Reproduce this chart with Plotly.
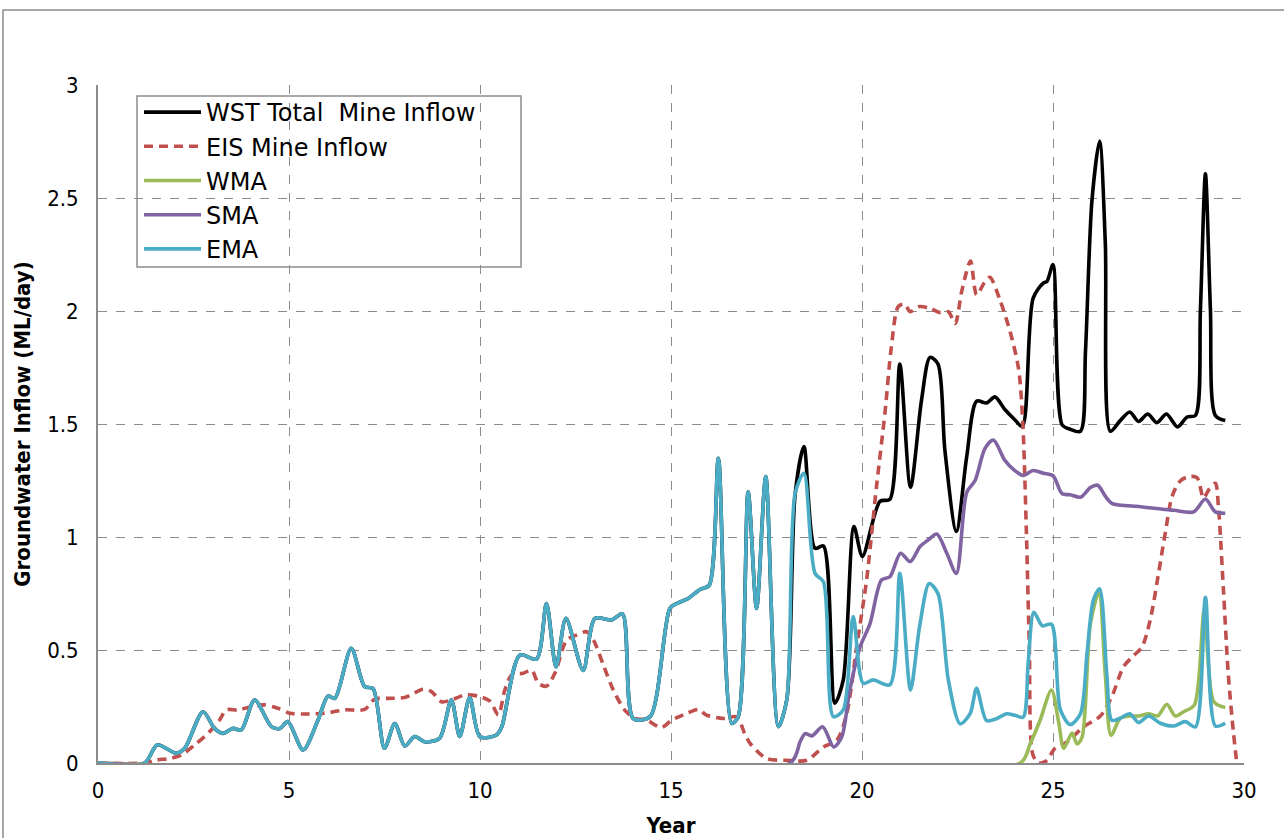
import plotly.graph_objects as go

# ---- data ----
ema_x = [0, 1.22, 1.55, 2.05, 2.27, 2.75, 3.05, 3.27, 3.53, 3.75, 4.10, 4.54, 4.76, 4.97, 5.37, 5.76, 6.02, 6.2,
         6.63, 6.98, 7.2, 7.5, 7.77, 8.03, 8.29, 8.55, 8.94, 9.25, 9.47, 9.73, 10.0, 10.43, 10.57, 11.04, 11.48,
         11.74, 11.99, 12.25, 12.70, 13.01, 13.45, 13.73, 14.01, 14.45, 14.97, 15.15, 15.45, 15.76, 16.0, 16.24,
         16.59, 16.76, 17.02, 17.24, 17.48, 17.81, 18.03, 18.25, 18.48, 18.77, 18.99, 19.25, 19.51, 19.77, 20.03,
         20.29, 20.73, 20.99, 21.27, 21.51, 21.76, 21.99, 22.26, 22.57, 22.83, 23.0, 23.26, 23.52, 23.79, 24.0,
         24.22, 24.35, 24.5, 24.72, 24.96, 25.19, 25.45, 25.72, 25.89, 26.06, 26.22, 26.41, 26.54, 26.76, 27.01,
         27.24, 27.5, 27.81, 28.16, 28.46, 28.73, 28.99, 29.25, 29.51]
ema_y = [0, 0, 0.08, 0.043, 0.065, 0.227, 0.153, 0.131, 0.153, 0.146, 0.279, 0.161, 0.153, 0.183, 0.058, 0.19,
         0.296, 0.286, 0.507, 0.338, 0.33, 0.065, 0.175, 0.075, 0.117, 0.094, 0.109, 0.279, 0.117, 0.29, 0.116,
         0.124, 0.16, 0.477, 0.46, 0.706, 0.426, 0.64, 0.41, 0.64, 0.633, 0.66, 0.197, 0.205, 0.684, 0.706, 0.728,
         0.768, 0.787, 1.348, 0.175, 0.205, 1.2, 0.684, 1.267, 0.161, 0.279, 1.194, 1.282, 0.839, 0.802, 0.205,
         0.235, 0.648, 0.353, 0.368, 0.346, 0.839, 0.323, 0.607, 0.794, 0.749, 0.368, 0.173, 0.218, 0.33, 0.188,
         0.196, 0.218, 0.211, 0.203, 0.442, 0.667, 0.607, 0.614, 0.237, 0.17, 0.218, 0.485, 0.723, 0.771, 0.389,
         0.189, 0.198, 0.218, 0.179, 0.208, 0.176, 0.164, 0.183, 0.16, 0.733, 0.164, 0.176]

# WST total follows EMA until SMA starts (~year 18); later part read separately
wst_late_x = [18.25, 18.48, 18.77, 18.99, 19.29, 19.51, 19.79, 20.01, 20.47, 20.73, 20.99, 21.27, 21.56, 21.78,
              21.99, 22.17, 22.47, 22.74, 23.0, 23.26, 23.48, 23.74, 24.0, 24.2, 24.48, 24.75, 24.84, 25.0, 25.24,
              25.45, 25.72, 25.85, 26.02, 26.22, 26.37, 26.5, 26.76, 27.01, 27.24, 27.48, 27.72, 27.97, 28.26,
              28.51, 28.73, 28.86, 28.99, 29.12, 29.25, 29.51]
wst_late_y = [1.19, 1.4, 0.95, 0.96, 0.265, 0.368, 1.046, 0.914, 1.158, 1.167, 1.765, 1.22, 1.608, 1.795, 1.765,
              1.384, 1.025, 1.354, 1.601, 1.593, 1.62, 1.564, 1.519, 1.489, 2.057, 2.124, 2.13, 2.205, 1.496, 1.477,
              1.468, 1.82, 2.489, 2.752, 2.298, 1.468, 1.515, 1.553, 1.511, 1.544, 1.506, 1.544, 1.487, 1.531,
              1.538, 2.011, 2.607, 2.011, 1.538, 1.515]

eis_x = [0, 1.22, 1.53, 1.88, 2.18, 2.53, 2.88, 3.18, 3.36, 3.66, 4.01, 4.36, 4.71, 5.02, 5.41, 5.93, 6.46, 6.98,
         7.24, 7.59, 8.03, 8.51, 8.73, 8.99, 9.25, 9.6, 9.95, 10.26, 10.48, 10.65, 10.83, 11.13, 11.35, 11.53,
         11.74, 11.96, 12.27, 12.53, 12.79, 12.97, 13.23, 13.49, 13.79, 14.06, 14.36, 14.75, 15.02, 15.41, 15.72,
         15.93, 16.37, 16.72, 16.93, 17.07, 17.5, 18.03, 18.55, 18.99, 19.34, 19.6, 19.86, 20.12, 20.38, 20.6,
         20.77, 20.95, 21.12, 21.26, 21.48, 21.78, 22.04, 22.26, 22.44, 22.61, 22.84, 23.0, 23.2, 23.35, 23.61,
         23.88, 24.1, 24.21, 24.3, 24.38, 24.47, 24.62, 24.83, 25.05, 25.37, 25.8, 26.24, 26.54, 26.85, 27.11,
         27.33, 27.55, 27.77, 27.94, 28.12, 28.33, 28.55, 28.77, 28.94, 29.08, 29.25, 29.33, 29.46, 29.59, 29.72,
         29.81]
eis_y = [0, 0, 0.013, 0.02, 0.035, 0.08, 0.131, 0.19, 0.235, 0.235, 0.249, 0.257, 0.242, 0.22, 0.217, 0.22, 0.235,
         0.237, 0.282, 0.286, 0.29, 0.326, 0.316, 0.271, 0.279, 0.301, 0.296, 0.274, 0.213, 0.323, 0.389, 0.397,
         0.411, 0.352, 0.34, 0.397, 0.544, 0.566, 0.581, 0.544, 0.433, 0.323, 0.234, 0.197, 0.19, 0.157, 0.19,
         0.219, 0.237, 0.212, 0.197, 0.204, 0.13, 0.087, 0.02, 0.012, 0.012, 0.071, 0.1, 0.218, 0.514, 0.81,
         1.224, 1.548, 1.843, 2.02, 2.03, 1.997, 2.019, 2.012, 1.993, 1.997, 1.945, 2.087, 2.221, 2.072, 2.124,
         2.149, 2.049, 1.907, 1.743, 1.504, 1.04, 0.517, 0.039, 0, 0.01, 0.065, 0.093, 0.16, 0.208, 0.294, 0.427,
         0.475, 0.513, 0.637, 0.847, 1.019, 1.181, 1.248, 1.267, 1.263, 1.172, 1.21, 1.238, 1.134, 0.771, 0.389,
         0.141, 0]

wma_x = [0, 24.14, 24.4, 24.66, 24.96, 25.15, 25.28, 25.5, 25.63, 25.76, 25.98, 26.2, 26.37, 26.52, 26.76, 27.01,
         27.24, 27.5, 27.74, 27.98, 28.2, 28.42, 28.7, 28.96, 29.21, 29.51]
wma_y = [0, 0, 0.084, 0.188, 0.323, 0.179, 0.065, 0.132, 0.084, 0.113, 0.618, 0.752, 0.389, 0.122, 0.198, 0.208,
         0.208, 0.218, 0.208, 0.26, 0.208, 0.227, 0.256, 0.676, 0.271, 0.246]

sma_x = [0, 18.12, 18.38, 18.51, 18.69, 18.97, 19.26, 19.47, 19.68, 19.95, 20.21, 20.51, 20.73, 21.01, 21.26,
         21.52, 21.74, 21.96, 22.22, 22.47, 22.74, 22.96, 23.22, 23.44, 23.74, 24.0, 24.22, 24.48, 24.75, 25.0,
         25.24, 25.45, 25.72, 25.98, 26.17, 26.37, 26.54, 27.29, 28.16, 28.68, 28.99, 29.25, 29.51]
sma_y = [0, 0, 0.094, 0.13, 0.12, 0.16, 0.071, 0.115, 0.322, 0.514, 0.617, 0.81, 0.824, 0.928, 0.891, 0.958,
         0.988, 1.013, 0.928, 0.839, 1.197, 1.25, 1.392, 1.429, 1.339, 1.294, 1.272, 1.294, 1.282, 1.271, 1.191,
         1.187, 1.176, 1.219, 1.229, 1.181, 1.149, 1.134, 1.118, 1.111, 1.168, 1.111, 1.105]

x_ticks = [0, 5, 10, 15, 20, 25, 30]
y_ticks = [0, 0.5, 1, 1.5, 2, 2.5, 3]

n_early = sum(1 for v in ema_x if v <= 18.03)
wst_x = ema_x[:n_early] + wst_late_x
wst_y = ema_y[:n_early] + wst_late_y

FONT = "DejaVu Sans Condensed"
GRID = "#8c8c8c"
LW = 3.6

fig = go.Figure()
common = dict(mode="lines", line_shape="spline")
fig.add_trace(go.Scatter(x=wst_x, y=wst_y, name="WST Total\u00a0 Mine Inflow", legendgroup="a",
                         line=dict(color="#000000", width=LW, smoothing=0.8), **common))
fig.add_trace(go.Scatter(x=eis_x, y=eis_y, name="EIS Mine Inflow", legendgroup="b",
                         line=dict(color="#C0504D", width=LW, dash="9px,6px", smoothing=0.8), **common))
fig.add_trace(go.Scatter(x=wma_x, y=wma_y, name="WMA", legendgroup="c",
                         line=dict(color="#9BBB59", width=LW, smoothing=0.8), **common))
fig.add_trace(go.Scatter(x=sma_x, y=sma_y, name="SMA", legendgroup="d",
                         line=dict(color="#8064A2", width=LW, smoothing=0.8), **common))
fig.add_trace(go.Scatter(x=ema_x, y=ema_y, name="EMA", legendgroup="e",
                         line=dict(color="#4BACC6", width=LW, smoothing=0.8), **common))

W, H = 1284, 838
L, R, T, B = 98, 40, 85, 75
pw, ph = W - L - R, H - T - B


def px_x(p):
    return (p - L) / pw


def px_y(p):
    return (H - B - p) / ph


fig.update_layout(
    width=W, height=H,
    margin=dict(l=L, r=R, t=T, b=B, autoexpand=False),
    paper_bgcolor="white", plot_bgcolor="white",
    font=dict(family=FONT, size=22, color="#000000"),
    showlegend=True,
    legend=dict(x=px_x(139), y=px_y(90), xanchor="left", yanchor="top",
                bgcolor="rgba(0,0,0,0)", borderwidth=0, tracegroupgap=0,
                itemwidth=57, font=dict(family="DejaVu Sans", size=24, color="#000000")),
    xaxis=dict(range=[0, 30], tickvals=x_ticks, ticktext=[str(v) for v in x_ticks], automargin=False,
               showgrid=True, gridcolor=GRID, griddash="dash", gridwidth=1,
               showline=True, linecolor=GRID, linewidth=2, zeroline=False,
               ticks="", ticklabelstandoff=7, tickfont=dict(size=22),
               title=dict(text="<b>Year</b>", font=dict(size=22), standoff=16)),
    yaxis=dict(range=[0, 3], tickvals=y_ticks, ticktext=[("%g" % v) for v in y_ticks], automargin=False,
               showgrid=True, gridcolor=GRID, griddash="dash", gridwidth=1,
               showline=True, linecolor=GRID, linewidth=2, zeroline=False,
               ticks="", ticklabelstandoff=13, tickfont=dict(size=22),
               title=dict(text="<b>Groundwater Inflow (ML/day)</b>", font=dict(size=22), standoff=10)),
    shapes=[
        dict(type="rect", xref="paper", yref="paper", x0=px_x(137), x1=px_x(521), y0=px_y(267), y1=px_y(96),
             line=dict(color="#8c8c8c", width=1.5), fillcolor="rgba(0,0,0,0)", layer="above"),
        dict(type="rect", xref="paper", yref="paper", x0=px_x(3), x1=px_x(1300), y0=px_y(850), y1=px_y(10),
             line=dict(color="#8c8c8c", width=1.5), fillcolor="rgba(0,0,0,0)", layer="below"),
    ],
)

fig.write_html("out.html")
